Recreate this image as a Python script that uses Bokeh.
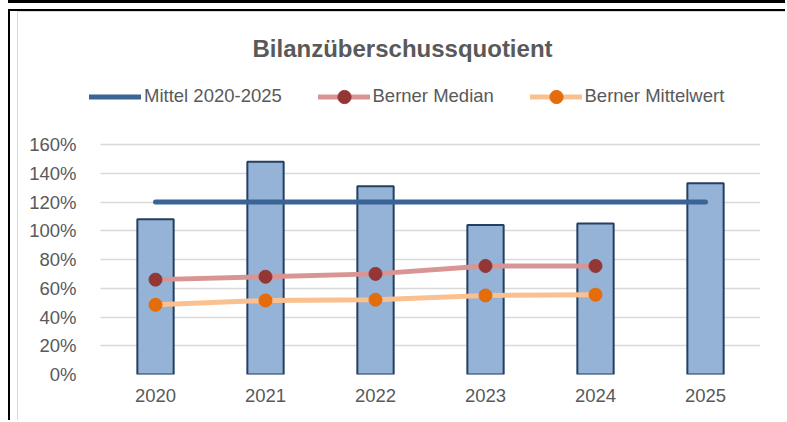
from bokeh.plotting import figure
from bokeh.models import (Range1d, Legend, LegendItem, NumeralTickFormatter,
                          FixedTicker, ColumnDataSource, BoxAnnotation)
from bokeh.embed import file_html
from bokeh.resources import INLINE

years = ["2020", "2021", "2022", "2023", "2024", "2025"]
quotient = [1.08, 1.48, 1.31, 1.04, 1.05, 1.33]
mittel = [1.20, 1.20, 1.20, 1.20, 1.20, 1.20]
median_years = ["2020", "2021", "2022", "2023", "2024"]
berner_median = [0.66, 0.68, 0.70, 0.755, 0.755]
berner_mittelwert = [0.485, 0.515, 0.52, 0.55, 0.555]
y_ticks = [0, 0.2, 0.4, 0.6, 0.8, 1.0, 1.2, 1.4, 1.6]

FONT = "Liberation Sans"
GREY = "#595959"
LABEL_SIZE = "18.5px"

xs = [int(y) for y in years]
mxs = [int(y) for y in median_years]
x_lo = xs[0] - 0.5
x_hi = xs[-1] + 0.5

p = figure(width=777, height=411,
           x_range=Range1d(x_lo - 16 / 110, x_hi),
           y_range=Range1d(0, 1.6 * 304 / 230),
           output_backend="svg", toolbar_location=None,
           min_border_left=74, min_border_right=27, min_border_top=59, min_border_bottom=48)
p.styles = {
    "margin-left": "8px", "margin-top": "9px",
    "border-top": "2px solid black", "border-left": "2px solid black",
    "box-shadow": "inset 7px 0 0 0 white, inset 8px 1px 0 0 #D9D9D9, "
                  "0 -6px 0 0 white, 0 -9px 0 0 black",
}

p.outline_line_color = None
p.background_fill_color = "white"
p.border_fill_alpha = 0

# hide grid lines left of the first category slot
p.add_layout(BoxAnnotation(right=x_lo, fill_color="white", fill_alpha=1,
                           line_alpha=0, level="underlay"))

src = ColumnDataSource(dict(x=xs, q=quotient, m=mittel))
p.vbar(x="x", top="q", width=0.33, source=src, fill_color="#95B3D7",
       line_color="#243F60", line_width=2)
r_mittel = p.line(x="x", y="m", source=src, line_color="#3A6496", line_width=5, line_cap="round")

msrc = ColumnDataSource(dict(x=mxs, med=berner_median, mw=berner_mittelwert))
r_med_l = p.line(x="x", y="med", source=msrc, line_color="#D99594", line_width=5, line_cap="round")
r_med_p = p.scatter(x="x", y="med", source=msrc, size=13, fill_color="#943634", line_color="#943634")
r_mw_l = p.line(x="x", y="mw", source=msrc, line_color="#FAC090", line_width=5, line_cap="round")
r_mw_p = p.scatter(x="x", y="mw", source=msrc, size=13, fill_color="#E46C0A", line_color="#E46C0A")

# axes
p.xaxis.ticker = FixedTicker(ticks=xs)
p.xaxis.major_label_overrides = {x: y for x, y in zip(xs, years)}
p.yaxis.ticker = FixedTicker(ticks=y_ticks)
p.yaxis.formatter = NumeralTickFormatter(format="0%")
for ax in (p.xaxis[0], p.yaxis[0]):
    ax.major_tick_line_color = None
    ax.minor_tick_line_color = None
    ax.axis_line_color = None
    ax.major_label_text_font = FONT
    ax.major_label_text_font_size = LABEL_SIZE
    ax.major_label_text_color = GREY
p.yaxis.major_label_standoff = 2
p.xaxis.major_label_standoff = 8
p.xgrid.grid_line_color = None
p.ygrid.grid_line_color = "#D9D9D9"
p.ygrid.grid_line_width = 1.5

# title
p.title.text = "Bilanzüberschussquotient"
p.title.text_font = FONT
p.title.text_font_size = "24px"
p.title.text_font_style = "bold"
p.title.text_color = GREY
p.title.align = "left"
p.title.offset = 168
p.title.standoff = 18

legend_entries = [
    ("Mittel 2020-2025", [r_mittel], 5),
    ("Berner Median", [r_med_l, r_med_p], 233.5),
    ("Berner Mittelwert", [r_mw_l, r_mw_p], 445.5),
]
for label, rends, vx in legend_entries:
    lg = Legend(items=[LegendItem(label=label, renderers=rends)],
                orientation="horizontal", location=(vx, 261.5),
                glyph_width=52, glyph_height=33, label_height=33,
                label_standoff=3, spacing=0, padding=0, margin=0,
                border_line_alpha=0, background_fill_alpha=0,
                label_text_font=FONT, label_text_font_size=LABEL_SIZE,
                label_text_color=GREY)
    p.add_layout(lg, "center")

open("out.html", "w").write(file_html(p, INLINE))
